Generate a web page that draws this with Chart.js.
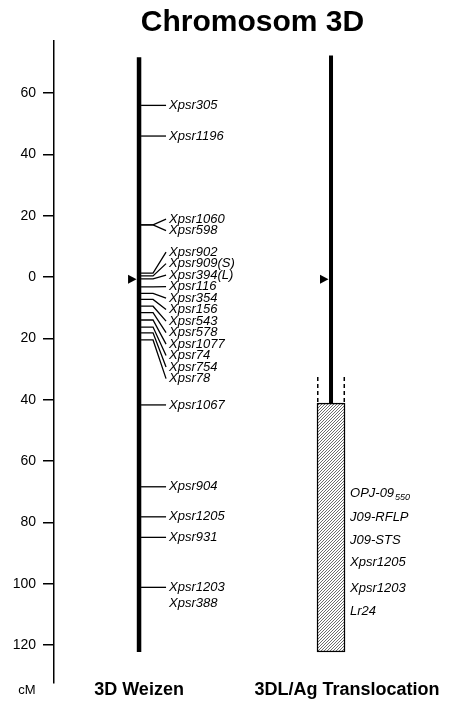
<!DOCTYPE html>
<html>
<head>
<meta charset="utf-8">
<script src="https://cdn.jsdelivr.net/npm/chart.js@4.4.1/dist/chart.umd.min.js"></script>
<style>
  html, body { margin: 0; padding: 0; background: #fff; }
  #wrap { width: 451px; height: 703px; }
</style>
</head>
<body>
<div id="wrap"><canvas id="mapChart"></canvas></div>
<script>
// map data (cM, negative = above the centromere / short arm)
const columns = ['3D Weizen', '3DL/Ag Translocation'];
const cmTicks = [-60, -40, -20, 0, 20, 40, 60, 80, 100, 120];
const chromTop = [-71.7, -72.3];
const chromEnd = [122.3, 122.3];
const centromere = 0.7;
const translocStart = 41.1;
const dashStart = 32.6;

const leftMarkers = ['Xpsr305', 'Xpsr1196', 'Xpsr1060', 'Xpsr598', 'Xpsr902', 'Xpsr909(S)',
  'Xpsr394(L)', 'Xpsr116', 'Xpsr354', 'Xpsr156', 'Xpsr543', 'Xpsr578', 'Xpsr1077', 'Xpsr74',
  'Xpsr754', 'Xpsr78', 'Xpsr1067', 'Xpsr904', 'Xpsr1205', 'Xpsr931', 'Xpsr1203\nXpsr388'];
const leftCM = [-56, -46, -17, -17, -1.3, -0.4, 0.6, 3.2, 5.3, 7.3, 9.5, 11.6, 14, 16.3,
  18.2, 20.5, 41.7, 68.4, 78.2, 84.9, 101.2];

const rightMarkers = ['OPJ-09_550', 'J09-RFLP', 'J09-STS', 'Xpsr1205', 'Xpsr1203', 'Lr24'];
const rightCM = [70.4, 78.3, 85.8, 92.9, 101.7, 109.2];

const FONT = '"Liberation Sans", Arial, Helvetica, sans-serif';

// diagonal hatch for the translocated segment
function hatch() {
  const c = document.createElement('canvas');
  c.width = 3; c.height = 3;
  const g = c.getContext('2d');
  g.fillStyle = '#fff';
  g.fillRect(0, 0, 3, 3);
  g.fillStyle = '#6e6e6e';
  g.fillRect(2, 0, 1, 1);
  g.fillRect(1, 1, 1, 1);
  g.fillRect(0, 2, 1, 1);
  return g.createPattern(c, 'repeat');
}

// push overlapping labels apart; big blocks sit a little below their loci like the original
function spreadLabels(stubs, gap) {
  const drop = g => (g.idx.length > 2 ? gap : 0);
  const first = g => g.center + drop(g) - (g.idx.length - 1) / 2 * gap;
  const last = g => g.center + drop(g) + (g.idx.length - 1) / 2 * gap;
  let groups = stubs.map((s, i) => ({ idx: [i], center: s }));
  let merged = true;
  while (merged) {
    merged = false;
    for (let i = 0; i < groups.length - 1; i++) {
      const a = groups[i], b = groups[i + 1];
      if (first(b) - last(a) < gap) {
        const idx = a.idx.concat(b.idx);
        const center = idx.reduce((s, k) => s + stubs[k], 0) / idx.length;
        groups.splice(i, 2, { idx, center });
        merged = true;
        break;
      }
    }
  }
  const out = [];
  groups.forEach(g => g.idx.forEach((k, j) => { out[k] = first(g) + j * gap; }));
  return out;
}

function drawName(ctx, text, x, y) {
  const parts = text.split('_');
  ctx.font = 'italic 13px ' + FONT;
  ctx.fillText(parts[0], x, y);
  if (parts[1]) {
    const w = ctx.measureText(parts[0]).width;
    ctx.font = 'italic 9px ' + FONT;
    ctx.fillText(parts[1], x + w + 1, y + 5);
  }
}

const mapPlugin = {
  id: 'geneticMap',
  afterDatasetsDraw(chart) {
    const { ctx, scales: { x, y } } = chart;
    ctx.save();
    ctx.fillStyle = '#000';
    ctx.strokeStyle = '#000';

    // centromere arrows
    [1, 2].forEach(c => {
      const px = x.getPixelForValue(c);
      const py = y.getPixelForValue(centromere);
      ctx.beginPath();
      ctx.moveTo(px - 2.5, py);
      ctx.lineTo(px - 11, py - 4.5);
      ctx.lineTo(px - 11, py + 4.5);
      ctx.closePath();
      ctx.fill();
    });

    // left column markers
    const px = x.getPixelForValue(1);
    const stubs = leftCM.map(v => y.getPixelForValue(v));
    const labY = spreadLabels(stubs, 11.5);
    ctx.lineWidth = 1.3;
    ctx.textBaseline = 'middle';
    ctx.textAlign = 'left';
    leftMarkers.forEach((name, i) => {
      ctx.beginPath();
      ctx.moveTo(px + 2, stubs[i]);
      ctx.lineTo(px + 14, stubs[i]);
      ctx.lineTo(px + 27, labY[i]);
      ctx.stroke();
      name.split('\n').forEach((line, j) => drawName(ctx, line, px + 30, labY[i] + j * 16));
    });

    // translocation: dashed borders above the box and its markers
    const bar = chart.getDatasetMeta(2).data[0];
    const bl = bar.x - bar.width / 2, br = bar.x + bar.width / 2;
    ctx.setLineDash([4, 3]);
    ctx.lineWidth = 1.5;
    const d0 = y.getPixelForValue(dashStart), d1 = y.getPixelForValue(translocStart);
    [bl + 0.75, br - 0.75].forEach(xx => {
      ctx.beginPath();
      ctx.moveTo(xx, d0);
      ctx.lineTo(xx, d1);
      ctx.stroke();
    });
    ctx.setLineDash([]);
    rightMarkers.forEach((name, i) => drawName(ctx, name, br + 5, y.getPixelForValue(rightCM[i])));

    // column names and unit
    const nameY = chart.chartArea.bottom + 7;
    ctx.textAlign = 'center';
    ctx.font = 'bold 18px ' + FONT;
    ctx.fillText(columns[0], x.getPixelForValue(1), nameY);
    ctx.fillText(columns[1], x.getPixelForValue(2) + 16, nameY);
    ctx.font = '13px ' + FONT;
    ctx.fillText('cM', 27, nameY);
    ctx.restore();
  }
};

new Chart(document.getElementById('mapChart'), {
  type: 'scatter',
  data: {
    datasets: [
      {
        data: [{ x: 1, y: chromTop[0] }, { x: 1, y: chromEnd[0] }],
        showLine: true, borderColor: '#000', borderWidth: 4.5, pointRadius: 0, borderCapStyle: 'butt'
      },
      {
        data: [{ x: 2, y: chromTop[1] }, { x: 2, y: translocStart }],
        showLine: true, borderColor: '#000', borderWidth: 4, pointRadius: 0, borderCapStyle: 'butt'
      },
      {
        type: 'bar',
        data: [{ x: 2, y: [translocStart, chromEnd[1]] }],
        backgroundColor: hatch(),
        borderColor: '#000',
        borderWidth: 1.5,
        borderSkipped: false,
        barThickness: 28
      }
    ]
  },
  options: {
    responsive: true,
    maintainAspectRatio: false,
    animation: false,
    events: [],
    layout: { padding: { left: 0, right: 0, top: 0, bottom: 20 } },
    scales: {
      x: {
        type: 'linear',
        display: false,
        offset: false,
        min: 0.557,
        max: 2.625
      },
      y: {
        type: 'linear',
        reverse: true,
        min: -77,
        max: 132.4,
        afterBuildTicks: s => { s.ticks = cmTicks.map(v => ({ value: v })); },
        afterFit: s => { s.width = 54; },
        ticks: {
          callback: v => Math.abs(v),
          color: '#000',
          padding: 7,
          font: { family: FONT, size: 14 }
        },
        grid: {
          drawOnChartArea: false,
          drawTicks: true,
          tickLength: 11,
          color: '#000',
          lineWidth: 1.5
        },
        border: { display: true, color: '#000', width: 1.5 }
      }
    },
    plugins: {
      legend: { display: false },
      tooltip: { enabled: false },
      title: {
        display: true,
        text: 'Chromosom 3D',
        fullSize: false,
        color: '#000',
        font: { family: FONT, size: 30, weight: 'bold', lineHeight: 1.16 },
        padding: { top: 5, bottom: 1.2 }
      }
    }
  },
  plugins: [mapPlugin]
});
</script>
</body>
</html>
